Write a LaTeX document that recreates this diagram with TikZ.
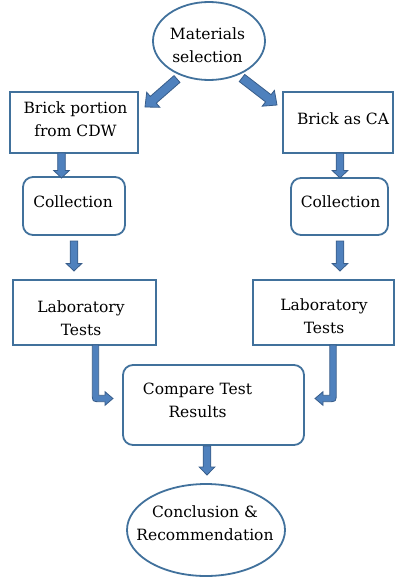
\documentclass[tikz,border=0pt]{standalone}
\usepackage{fontspec}
\setmainfont{DejaVu Serif}
\usetikzlibrary{shapes.geometric,calc}
\definecolor{boxc}{HTML}{41719C}
\definecolor{arrf}{HTML}{4F81BD}
\definecolor{arro}{HTML}{385D8A}
\tikzset{
  txt/.style={font=\fontsize{15.5}{23}\selectfont, align=center, inner sep=0pt},
  ell/.style={ellipse, draw=boxc, line width=1.8pt, inner sep=0pt},
  sbox/.style={rectangle, draw=boxc, line width=1.8pt, inner sep=0pt},
  rbox/.style={sbox, rounded corners=10pt},
  barrow/.style={fill=arrf, draw=arro, line width=0.8pt, line join=miter},
}
% #1 start, #2 tip, #3 half shaft, #4 half head, #5 head length
\newcommand{\blockarrow}[5]{%
  \coordinate (hb) at ($(#2)!#5!(#1)$);
  \filldraw[barrow] ($(#1)!#3!90:(#2)$) -- ($(hb)!#3!-90:(#1)$) -- ($(hb)!#4!-90:(#1)$)
    -- (#2) -- ($(hb)!#4!90:(#1)$) -- ($(hb)!#3!90:(#1)$) -- ($(#1)!#3!-90:(#2)$) -- cycle;
}
\begin{document}
\begin{tikzpicture}[x=1pt,y=1pt]
\useasboundingbox (0,0) rectangle (395,-578);
\node[ell, minimum width=112pt, minimum height=78pt] (mat) at (209,-41) {};
\node[sbox, minimum width=128pt, minimum height=61pt] (brick1) at (74,-122.5) {};
\node[sbox, minimum width=110pt, minimum height=61pt] (brick2) at (338,-122.5) {};
\node[rbox, minimum width=102pt, minimum height=58pt] (coll1) at (74,-206) {};
\node[rbox, minimum width=97pt, minimum height=57pt] (coll2) at (339.5,-206.5) {};
\node[sbox, minimum width=143pt, minimum height=65pt] (lab1) at (84.5,-312.5) {};
\node[sbox, minimum width=141pt, minimum height=65pt] (lab2) at (323.5,-312.5) {};
\node[rbox, minimum width=181pt, minimum height=80pt] (cmp) at (213.5,-405) {};
\node[ell, minimum width=158pt, minimum height=92pt] (concl) at (206,-530) {};

\node[txt] (matt) at (207.5,-45) {Materials\\selection};
\node[txt] (brick1t) at (75.5,-119) {Brick portion\\from CDW};
\node[txt] (brick2t) at (343,-119) {Brick as CA};
\node[txt] (coll1t) at (73,-202) {Collection};
\node[txt] (coll2t) at (340.5,-202) {Collection};
\node[txt] (lab1t) at (81,-318.5) {Laboratory\\Tests};
\node[txt] (lab2t) at (324,-316.5) {Laboratory\\Tests};
\node[txt] (cmpt) at (197.5,-400) {Compare Test\\Results};
\node[txt] (conclt) at (205,-523.5) {Conclusion \&\\Recommendation};

\coordinate (a1s) at (177,-79);  \coordinate (a1e) at (145,-107);
\coordinate (a2s) at (242,-78);  \coordinate (a2e) at (277,-105);
\coordinate (a3s) at (61.5,-153); \coordinate (a3e) at (61.5,-178);
\coordinate (a4s) at (340,-153); \coordinate (a4e) at (340,-178);
\coordinate (a5s) at (74,-241);  \coordinate (a5e) at (74,-271);
\coordinate (a6s) at (340,-241); \coordinate (a6e) at (340,-271);
\coordinate (a7s) at (207,-446); \coordinate (a7e) at (207,-475);
\blockarrow{a1s}{a1e}{4.5pt}{10pt}{11pt}
\blockarrow{a2s}{a2e}{4.5pt}{10pt}{11pt}
\blockarrow{a3s}{a3e}{3.8pt}{7.8pt}{7.5pt}
\blockarrow{a4s}{a4e}{3.8pt}{7.8pt}{7.5pt}
\blockarrow{a5s}{a5e}{3.8pt}{7.8pt}{7.5pt}
\blockarrow{a6s}{a6e}{3.8pt}{7.8pt}{7.5pt}
\blockarrow{a7s}{a7e}{3.8pt}{7.8pt}{8pt}

\coordinate (b1s) at (95.5,-345); \coordinate (b1e) at (113,-398.5);
\coordinate (b2s) at (333,-345); \coordinate (b2e) at (315,-398.5);
\filldraw[barrow] let \p1=(b1s), \p2=(b1e) in
  (\x1-3.2pt,\y1) -- (\x1-3.2pt,\y2+5pt) .. controls (\x1-3.2pt,\y2-3.2pt) .. (\x1+5pt,\y2-3.2pt)
  -- (\x2-8pt,\y2-3.2pt) -- (\x2-8pt,\y2-6.8pt) -- (\x2,\y2) -- (\x2-8pt,\y2+6.8pt)
  -- (\x2-8pt,\y2+3.2pt) -- (\x1+3.2pt,\y2+3.2pt) -- (\x1+3.2pt,\y1) -- cycle;
\filldraw[barrow] let \p1=(b2s), \p2=(b2e) in
  (\x1+3.2pt,\y1) -- (\x1+3.2pt,\y2+5pt) .. controls (\x1+3.2pt,\y2-3.2pt) .. (\x1-5pt,\y2-3.2pt)
  -- (\x2+8pt,\y2-3.2pt) -- (\x2+8pt,\y2-6.8pt) -- (\x2,\y2) -- (\x2+8pt,\y2+6.8pt)
  -- (\x2+8pt,\y2+3.2pt) -- (\x1-3.2pt,\y2+3.2pt) -- (\x1-3.2pt,\y1) -- cycle;
\end{tikzpicture}
\end{document}
